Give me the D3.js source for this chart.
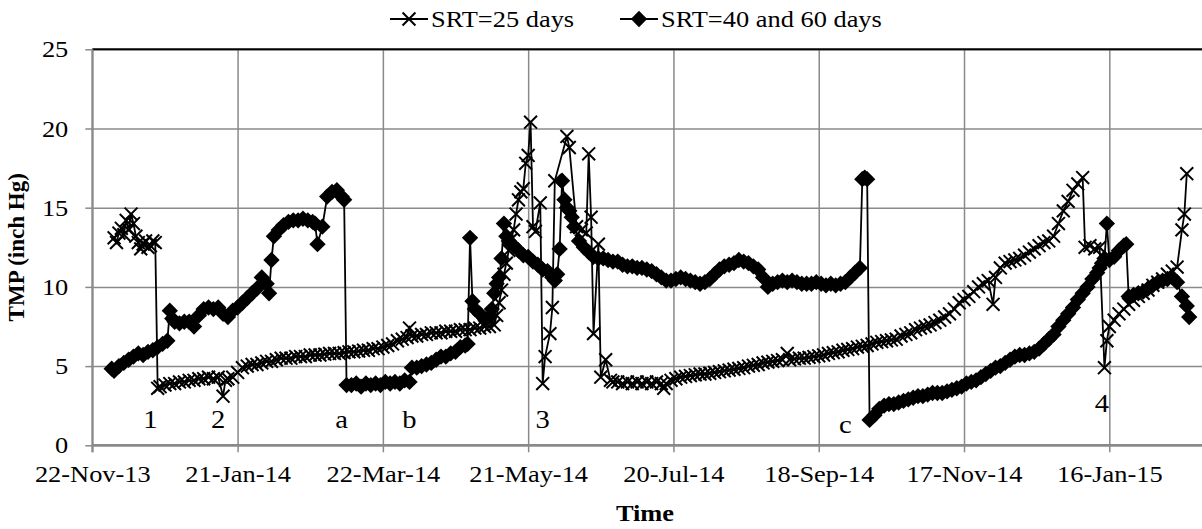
<!DOCTYPE html>
<html>
<head>
<meta charset="utf-8">
<script src="https://cdn.jsdelivr.net/npm/d3@7"></script>
<style>
  body { margin: 0; background: #fff; }
  text { font-family: "Liberation Serif", "Times New Roman", serif; fill: #000; }
</style>
</head>
<body>
<svg id="main" width="1202" height="529"></svg>
<script>
// ---- data ----
// sample dates are given as days after 22-Nov-13
var startDate = "2013-11-22";

var srt25Days = [
  9,10,11,12,13,14,15,16,17,18,19,20,21,22,23,24,25,26,
  27,28,30,32,34,36,38,40,42,44,46,48,50,52,54,55,56,58,60,62,64,66,68,70,
  72,74,76,78,80,82,84,86,88,90,92,94,96,98,100,102,104,106,108,110,112,114,116,118,
  120,122,124,126,128,130,131,132,134,136,138,140,142,144,146,148,150,152,154,156,158,160,162,164,166,
  167,168,169,170,171,172,173,174,175,176,177,178,179,180,181,182,183,185,186,187,189,190,191,196,197,
  200,202,204,205,206,207,209,210,212,214,
  215,217,219,221,223,225,227,229,231,233,235,236,237,239,241,243,
  245,247,249,251,253,255,257,259,261,263,265,267,269,271,273,275,277,279,281,283,285,287,288,
  290,292,294,296,298,300,302,304,306,308,310,312,314,316,318,320,322,324,326,328,330,332,334,336,
  338,340,342,344,346,348,350,352,354,356,358,360,362,364,366,368,370,372,373,375,377,379,381,383,
  385,387,389,391,393,395,397,399,401,403,405,407,409,
  410,412,414,416,418,419,420,422,424,426,428,430,432,434,436,438,440,442,444,446,448,450,451,452
];
var srt25Values = [
  13.1,12.8,13.4,13.7,13.3,14.2,13.6,14.6,14.0,13.2,12.8,12.4,12.7,12.9,12.5,12.6,12.9,12.8,
  3.6,3.7,3.8,3.9,3.9,4.0,4.0,4.1,4.1,4.2,4.2,4.3,4.2,4.3,3.1,4.1,4.2,4.3,4.6,4.9,5.0,5.1,5.1,5.2,
  5.3,5.3,5.4,5.5,5.5,5.5,5.6,5.6,5.6,5.7,5.7,5.7,5.75,5.8,5.8,5.8,5.85,5.9,5.9,5.95,6.0,6.0,6.1,6.1,
  6.2,6.3,6.4,6.6,6.7,6.8,7.4,6.9,6.9,7.0,7.0,7.1,7.1,7.1,7.2,7.2,7.2,7.3,7.3,7.3,7.4,7.4,7.5,7.5,7.6,
  8.2,9.0,9.8,10.8,11.5,12.3,13.0,13.6,14.6,15.5,16.0,16.2,17.8,18.3,20.4,13.8,13.5,15.3,3.9,5.6,7.05,8.7,16.7,19.5,18.8,
  13.8,13.6,13.4,18.4,14.4,7.05,12.7,4.3,5.4,4.1,
  4.0,4.0,3.9,4.0,3.9,4.0,3.9,4.0,3.9,4.0,3.9,3.6,3.9,4.1,4.2,4.3,
  4.35,4.4,4.45,4.5,4.5,4.55,4.6,4.65,4.7,4.75,4.8,4.85,4.9,5.0,5.05,5.1,5.2,5.25,5.3,5.35,5.4,5.8,5.4,
  5.45,5.5,5.5,5.55,5.6,5.65,5.7,5.8,5.85,5.9,6.0,6.05,6.1,6.2,6.25,6.3,6.4,6.5,6.55,6.6,6.65,6.7,6.9,7.0,
  7.1,7.3,7.4,7.5,7.6,7.75,7.9,8.1,8.3,8.6,9.0,9.2,9.4,9.7,10.0,10.2,10.4,8.9,10.6,11.2,11.5,11.6,11.7,11.8,
  12.0,12.2,12.4,12.6,12.8,12.9,13.2,14.0,14.8,15.4,16.1,16.5,16.9,
  12.5,12.6,12.4,12.5,4.9,6.6,7.5,7.9,8.3,8.6,8.9,9.15,9.4,9.6,9.8,10.1,10.3,10.5,10.8,11.0,11.25,13.6,14.6,17.15
];

var srt4060Days = [
  8,9,11,13,15,17,19,21,23,25,27,29,31,32,33,34,36,38,40,42,44,46,48,50,52,54,56,58,60,62,64,66,68,70,
  72,73,74,75,77,79,81,83,85,87,89,91,92,93,95,97,99,101,103,104,
  105,107,109,111,113,115,117,119,121,123,125,127,129,131,
  132,134,136,138,140,142,144,146,148,150,152,154,155,156,157,158,160,162,164,165,166,167,168,169,170,
  171,172,174,176,178,180,182,184,186,188,190,191,192,193,194,195,196,197,198,199,201,203,205,207,209,
  211,213,215,217,219,221,223,225,227,229,231,233,235,237,239,241,243,245,247,249,251,253,255,257,259,
  261,263,265,267,269,271,273,275,277,279,281,283,285,287,289,291,293,295,297,299,301,303,305,307,309,
  311,313,315,317,318,319,320,
  321,323,325,327,329,331,333,335,337,339,341,343,345,347,349,351,353,355,357,359,361,363,365,367,369,
  371,373,375,377,379,381,383,385,387,389,391,393,395,397,399,401,403,405,407,409,411,413,415,416,417,
  418,419,420,422,424,426,427,428,430,432,434,436,438,440,442,444,446,448,450,452,453
];
var srt4060Values = [
  4.84,4.7,5.0,5.2,5.4,5.6,5.8,5.7,5.9,6.0,6.2,6.4,6.6,8.5,8.0,7.8,7.7,7.8,7.8,7.5,8.2,8.6,8.7,8.6,8.7,8.3,8.1,8.5,8.7,9.0,9.3,9.6,9.9,10.6,
  10.2,9.6,11.7,13.2,13.6,13.9,14.1,14.2,14.2,14.3,14.2,14.1,14.0,12.7,13.8,15.7,16.0,16.1,15.7,15.5,
  3.8,3.8,3.9,3.7,3.9,3.8,3.9,3.8,4.0,3.9,4.0,3.9,4.1,4.0,
  4.9,4.9,5.0,5.1,5.2,5.4,5.6,5.6,5.8,5.9,6.2,6.3,6.4,13.1,9.1,8.6,8.3,8.0,8.1,8.6,9.6,10.2,10.6,11.8,14.0,
  13.2,12.9,12.6,12.3,12.0,11.9,11.6,11.4,11.1,11.0,10.6,10.4,10.8,12.4,16.7,15.5,15.0,14.8,14.4,13.8,12.9,12.5,12.2,11.9,11.8,
  11.8,11.7,11.6,11.6,11.4,11.3,11.3,11.2,11.2,11.1,11.0,10.8,10.6,10.4,10.4,10.5,10.6,10.5,10.4,10.3,10.2,10.3,10.5,10.8,11.1,
  11.3,11.4,11.5,11.7,11.6,11.5,11.3,11.1,10.6,10.0,10.2,10.3,10.4,10.3,10.4,10.3,10.2,10.2,10.2,10.3,10.2,10.1,10.2,10.1,10.2,
  10.3,10.6,10.9,11.2,16.8,16.9,16.8,
  1.6,1.9,2.3,2.5,2.6,2.6,2.7,2.8,2.9,3.0,3.1,3.1,3.2,3.3,3.3,3.3,3.4,3.5,3.6,3.7,3.9,4.0,4.1,4.3,4.5,
  4.7,4.9,5.0,5.2,5.4,5.6,5.7,5.7,5.8,5.9,6.1,6.4,6.7,7.0,7.5,7.9,8.3,8.7,9.2,9.6,10.0,10.5,10.9,11.2,11.5,
  11.8,14.0,11.7,11.9,12.3,12.6,12.7,9.4,9.5,9.6,9.7,9.9,10.1,10.3,10.4,10.5,10.6,10.3,9.4,8.8,8.1
];

var seriesNames = ["SRT=25 days", "SRT=40 and 60 days"];
var xTickDates = ["2013-11-22","2014-01-21","2014-03-22","2014-05-21","2014-07-20","2014-09-18","2014-11-17","2015-01-16"];
var yTicks = [0, 5, 10, 15, 20, 25];

var noteLabels = ["1", "2", "a", "b", "3", "c", "4"];
var noteDays = [24, 52, 103, 131, 186, 311, 417];
var noteValues = [1.1, 1.1, 1.1, 1.1, 1.1, 0.8, 2.1];

// ---- layout ----
var plotLeft = 92.3, plotTop = 49.3, plotBottom = 445.3, plotRight = 1202;
var textStretch = 1.1;

var parse = d3.utcParse("%Y-%m-%d");
var fmt = d3.utcFormat("%-d-%b-%y");
var day0 = parse(startDate);
function dayDate(n) { return d3.utcDay.offset(day0, n); }

var x = d3.scaleUtc()
  .domain([parse(xTickDates[0]), parse(xTickDates[xTickDates.length - 1])])
  .range([plotLeft, 1109.3]);
var y = d3.scaleLinear().domain([0, 25]).range([plotBottom, plotTop]);

var svg = d3.select("svg#main");

// vertical grid
svg.append("g")
  .attr("transform", "translate(0," + plotBottom + ")")
  .call(d3.axisBottom(x).tickValues(xTickDates.map(parse)).tickSize(-(plotBottom - plotTop)).tickFormat(""))
  .call(function(g) { g.select(".domain").remove(); })
  .selectAll("line").attr("stroke", "#8a8a8a").attr("stroke-width", 1.5);

// horizontal grid
svg.append("g")
  .attr("transform", "translate(" + plotLeft + ",0)")
  .call(d3.axisLeft(y).tickValues(yTicks).tickSize(-(plotRight - plotLeft)).tickFormat(""))
  .call(function(g) { g.select(".domain").remove(); })
  .selectAll("line").attr("stroke", "#8a8a8a").attr("stroke-width", 1.5);

// top border
svg.append("line")
  .attr("x1", plotLeft).attr("x2", plotRight).attr("y1", y(25)).attr("y2", y(25))
  .attr("stroke", "#000").attr("stroke-width", 2);

// x axis
var xAxis = svg.append("g")
  .attr("transform", "translate(0," + plotBottom + ")")
  .call(d3.axisBottom(x).tickValues(xTickDates.map(parse)).tickFormat(fmt).tickSize(7).tickPadding(13));
xAxis.select(".domain").attr("stroke", "#8a8a8a").attr("stroke-width", 2.5)
  .attr("d", "M" + plotLeft + ",0H" + plotRight);
xAxis.selectAll("line").attr("stroke", "#8a8a8a").attr("stroke-width", 1.5);
xAxis.selectAll("text").attr("font-size", 24).attr("font-family", "Liberation Serif").classed("stretch", true);

// y axis
var yAxis = svg.append("g")
  .attr("transform", "translate(" + plotLeft + ",0)")
  .call(d3.axisLeft(y).tickValues(yTicks).tickSize(7).tickPadding(17));
yAxis.select(".domain").attr("stroke", "#8a8a8a").attr("stroke-width", 2)
  .attr("d", "M0," + plotTop + "V" + (plotBottom + 7));
yAxis.selectAll("line").attr("stroke", "#8a8a8a").attr("stroke-width", 1.5);
yAxis.selectAll("text").attr("font-size", 24).attr("font-family", "Liberation Serif").classed("stretch", true);

// axis titles
svg.append("text")
  .attr("transform", "translate(24," + ((plotTop + plotBottom) / 2) + ") rotate(-90)")
  .attr("text-anchor", "middle").attr("font-size", 23).attr("font-weight", "bold")
  .text("TMP (inch Hg)");
svg.append("text")
  .attr("class", "stretch")
  .attr("x", 645).attr("y", 521)
  .attr("text-anchor", "middle").attr("font-size", 24).attr("font-weight", "bold")
  .text("Time");

// series
var s25 = srt25Days.map(function(d, i) { return { date: dayDate(d), value: srt25Values[i] }; });
var s4060 = srt4060Days.map(function(d, i) { return { date: dayDate(d), value: srt4060Values[i] }; });

var line = d3.line().x(function(d) { return x(d.date); }).y(function(d) { return y(d.value); });

var plot = svg.append("g");

plot.append("path").datum(s4060)
  .attr("d", line).attr("fill", "none").attr("stroke", "#000").attr("stroke-width", 1.8);
plot.append("path").datum(s25)
  .attr("d", line).attr("fill", "none").attr("stroke", "#000").attr("stroke-width", 1.8);

var diamond = d3.symbol().type(d3.symbolDiamond2).size(170);
plot.selectAll("path.dia").data(s4060).join("path")
  .attr("class", "dia")
  .attr("transform", function(d) { return "translate(" + x(d.date) + "," + y(d.value) + ")"; })
  .attr("d", diamond).attr("fill", "#000");

var cross = d3.symbol().type(d3.symbolX).size(110);
plot.selectAll("path.crs").data(s25).join("path")
  .attr("class", "crs")
  .attr("transform", function(d) { return "translate(" + x(d.date) + "," + y(d.value) + ")"; })
  .attr("d", cross).attr("fill", "none").attr("stroke", "#000").attr("stroke-width", 2);

// annotations
svg.selectAll("text.note").data(noteLabels).join("text")
  .attr("class", "note stretch")
  .attr("x", function(d, i) { return x(dayDate(noteDays[i])); })
  .attr("y", function(d, i) { return y(noteValues[i]); })
  .attr("text-anchor", "middle").attr("font-size", 26)
  .text(function(d) { return d; });

// legend
var legend = svg.append("g").attr("transform", "translate(0,27)");
var legendX = [390, 620];
var items = legend.selectAll("g").data(seriesNames).join("g")
  .attr("transform", function(d, i) { return "translate(" + legendX[i] + ",0)"; });
items.append("line").attr("x1", 0).attr("x2", 38).attr("y1", -8).attr("y2", -8)
  .attr("stroke", "#000").attr("stroke-width", 2);
items.append("path")
  .attr("transform", "translate(19,-8)")
  .attr("d", function(d, i) { return i === 0 ? cross() : diamond(); })
  .attr("fill", function(d, i) { return i === 0 ? "none" : "#000"; })
  .attr("stroke", function(d, i) { return i === 0 ? "#000" : "none"; })
  .attr("stroke-width", 2);
items.append("text").attr("class", "stretch").attr("x", 41).attr("y", 0).attr("font-size", 24)
  .text(function(d) { return d; });

// the reference's lettering is wider than plain Times; stretch it horizontally
svg.selectAll("text.stretch").each(function() {
  var len = this.getComputedTextLength();
  if (len > 0) d3.select(this).attr("textLength", len * textStretch).attr("lengthAdjust", "spacingAndGlyphs");
});
</script>
</body>
</html>
